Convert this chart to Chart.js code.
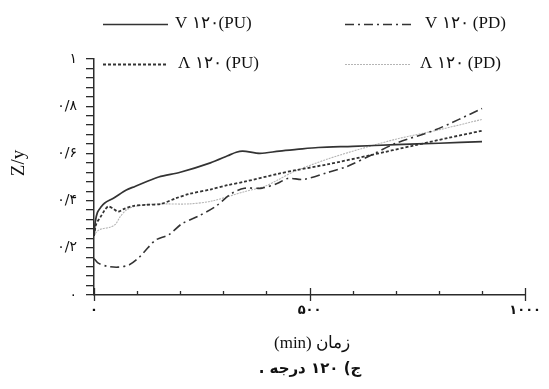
<!DOCTYPE html>
<html>
<head>
<meta charset="utf-8">
<script src="https://cdn.jsdelivr.net/npm/chart.js"></script>
<style>
    html, body { margin: 0; padding: 0; background: #fff; overflow: hidden; }
    #chart { display: block; }
</style>
</head>
<body>
<canvas id="chart" width="549" height="389"></canvas>
<script>
// Time (min) and Z/y
const vPuX = [0, 3, 8, 15, 25, 45, 75, 95, 150, 200, 270, 310, 330, 345, 385, 430, 470, 520, 600, 700, 800, 900];
const vPuY = [0.25, 0.31, 0.35, 0.37, 0.39, 0.41, 0.445, 0.46, 0.50, 0.52, 0.56, 0.59, 0.605, 0.61, 0.60, 0.61, 0.617, 0.625, 0.63, 0.637, 0.643, 0.65];

const vPdX = [0, 10, 30, 56, 82, 105, 125, 143, 174, 204, 243, 281, 319, 349, 390, 426, 449, 487, 540, 586, 640, 700, 792, 900];
const vPdY = [0.155, 0.135, 0.122, 0.118, 0.128, 0.16, 0.2, 0.233, 0.256, 0.302, 0.335, 0.374, 0.43, 0.452, 0.453, 0.473, 0.494, 0.49, 0.518, 0.544, 0.59, 0.643, 0.70, 0.79];

const lPuX = [0, 5, 15, 25, 33, 45, 56, 70, 90, 120, 155, 190, 220, 272, 311, 349, 426, 471, 540, 640, 746, 820, 900];
const lPuY = [0.25, 0.30, 0.33, 0.36, 0.375, 0.365, 0.353, 0.365, 0.377, 0.382, 0.386, 0.41, 0.428, 0.448, 0.466, 0.48, 0.513, 0.53, 0.553, 0.592, 0.635, 0.665, 0.696];

const lPdX = [0, 5, 14, 37, 50, 60, 75, 98, 130, 159, 220, 273, 349, 395, 426, 464, 540, 620, 700, 800, 900];
const lPdY = [0.25, 0.265, 0.278, 0.287, 0.3, 0.33, 0.36, 0.377, 0.384, 0.386, 0.386, 0.398, 0.438, 0.46, 0.487, 0.523, 0.575, 0.62, 0.66, 0.70, 0.744];

const seriesLabels = ['V ۱۲۰(PU)', 'V ۱۲۰ (PD)', 'Λ ۱۲۰ (PU)', 'Λ ۱۲۰ (PD)'];

// Axis tick labels
const yTickValues = [0, 0.2, 0.4, 0.6, 0.8, 1];
const yTickLabels = ['۰', '۰/۲', '۰/۴', '۰/۶', '۰/۸', '۱'];
const xTickValues = [0, 500, 1000];
const xTickLabels = ['۰', '۵۰۰', '۱۰۰۰'];

const xTitle = 'زمان (min)';
const yTitle = 'Z/y';
const caption = 'ج) ۱۲۰ درجه .';

const ink = '#2b2b2b';
const serif = '"Liberation Serif", "DejaVu Serif", serif';

function toPoints(xs, ys) {
    return xs.map((x, i) => ({ x: x, y: ys[i] }));
}

function findLabel(values, labels, v) {
    for (let i = 0; i < values.length; i++) {
        if (Math.abs(values[i] - v) < 1e-6) return labels[i];
    }
    return '';
}

// x ticks (small ones inside, big ones across), legend and titles
const decorations = {
    id: 'decorations',
    afterDraw(chart) {
        const ctx = chart.ctx;
        const xs = chart.scales.x;
        const area = chart.chartArea;
        ctx.save();

        ctx.strokeStyle = ink;
        ctx.lineWidth = 1.3;
        for (let v = 0; v <= 1000; v += 100) {
            const px = Math.round(xs.getPixelForValue(v)) + 0.5;
            const major = v % 500 === 0;
            ctx.beginPath();
            ctx.moveTo(px, area.bottom - (major ? 7 : 4));
            ctx.lineTo(px, area.bottom + (major ? 6 : 0));
            ctx.stroke();
        }

        // legend, two rows
        const slots = [
            { x1: 103, x2: 168, tx: 175, y: 24 },
            { x1: 345, x2: 414, tx: 425, y: 24 },
            { x1: 103, x2: 167, tx: 178, y: 64 },
            { x1: 345, x2: 410, tx: 420, y: 64 }
        ];
        chart.data.datasets.forEach((ds, i) => {
            const s = slots[i];
            ctx.save();
            ctx.strokeStyle = ds.borderColor;
            ctx.lineWidth = ds.borderWidth;
            ctx.setLineDash(ds.borderDash || []);
            ctx.beginPath();
            ctx.moveTo(s.x1, s.y + 0.5);
            ctx.lineTo(s.x2, s.y + 0.5);
            ctx.stroke();
            ctx.restore();
            ctx.fillStyle = '#111';
            ctx.font = '17px ' + serif;
            ctx.textAlign = 'left';
            ctx.textBaseline = 'middle';
            ctx.direction = 'ltr';
            ctx.fillText(ds.label, s.tx, s.y);
        });

        // y title
        ctx.save();
        ctx.translate(19, 163);
        ctx.rotate(-Math.PI / 2);
        ctx.font = '19px ' + serif;
        ctx.fillStyle = '#111';
        ctx.textAlign = 'center';
        ctx.textBaseline = 'middle';
        ctx.fillText(yTitle, 0, 0);
        ctx.restore();

        // x title and caption (right to left)
        ctx.direction = 'rtl';
        ctx.textAlign = 'center';
        ctx.textBaseline = 'middle';
        ctx.fillStyle = '#111';
        ctx.font = '17px ' + serif;
        ctx.fillText(xTitle, 312, 344);
        ctx.font = 'bold 15px "DejaVu Sans", sans-serif';
        ctx.fillText(caption, 310, 369);

        ctx.restore();
    }
};

new Chart(document.getElementById('chart'), {
    type: 'line',
    data: {
        datasets: [{
            label: seriesLabels[0],
            data: toPoints(vPuX, vPuY),
            borderColor: '#333333',
            borderWidth: 1.7
        }, {
            label: seriesLabels[1],
            data: toPoints(vPdX, vPdY),
            borderColor: '#333333',
            borderWidth: 1.6,
            borderDash: [9, 4, 2, 4]
        }, {
            label: seriesLabels[2],
            data: toPoints(lPuX, lPuY),
            borderColor: '#333333',
            borderWidth: 1.8,
            borderDash: [3, 2]
        }, {
            label: seriesLabels[3],
            data: toPoints(lPdX, lPdY),
            borderColor: '#b5b5b5',
            borderWidth: 1.1,
            borderDash: [2, 1]
        }]
    },
    options: {
        responsive: false,
        animation: false,
        layout: { padding: { top: 59, right: 18, left: 0, bottom: 0 } },
        elements: {
            point: { radius: 0 },
            line: { tension: 0.3, fill: false }
        },
        plugins: {
            legend: { display: false },
            tooltip: { enabled: false }
        },
        scales: {
            x: {
                type: 'linear',
                min: 0,
                max: 1000,
                afterFit: (scale) => { scale.height = 94; },
                grid: { display: false, drawTicks: false },
                border: { display: true, color: ink, width: 1.5 },
                ticks: {
                    stepSize: 100,
                    autoSkip: false,
                    maxRotation: 0,
                    padding: 8,
                    color: '#111',
                    font: { family: '"DejaVu Sans", sans-serif', size: 13, weight: 'bold' },
                    callback: (v) => findLabel(xTickValues, xTickLabels, v)
                }
            },
            y: {
                min: 0,
                max: 1,
                afterFit: (scale) => { scale.width = 94; },
                grid: { drawOnChartArea: false, drawTicks: true, tickLength: 8, color: ink, lineWidth: 1.3 },
                border: { display: true, color: ink, width: 1.5 },
                ticks: {
                    stepSize: 0.04,
                    autoSkip: false,
                    padding: 9,
                    color: '#111',
                    font: { family: '"DejaVu Sans", sans-serif', size: 14 },
                    callback: (v) => findLabel(yTickValues, yTickLabels, v)
                }
            }
        }
    },
    plugins: [decorations]
});
</script>
</body>
</html>
